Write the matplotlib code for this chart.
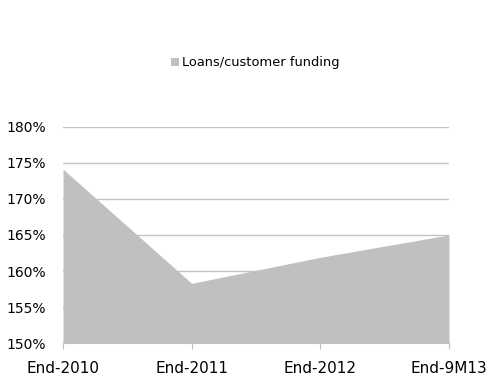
import matplotlib
matplotlib.use("Agg")
import matplotlib.pyplot as plt

# Loans / customer funding ratio, in percent
periods = ["End-2010", "End-2011", "End-2012", "End-9M13"]
ratio = [174.1, 158.3, 161.9, 165.0]
y_ticks = [150, 155, 160, 165, 170, 175, 180]

fill_col = "#c0c0c0"
grid_col = "#c4c4c4"

fig = plt.figure(figsize=(4.87, 3.79), dpi=100)
ax = fig.add_axes([0.1294, 0.0942, 0.7926, 0.572])

x = list(range(len(periods)))
area = ax.fill_between(x, 150, ratio, color=fill_col, linewidth=0, zorder=2,
                       label="Loans/customer funding")

ax.set_xlim(0, len(periods) - 1)
ax.set_ylim(150, 180)
ax.set_yticks(y_ticks)
ax.set_yticklabels([f"{v}%" for v in y_ticks])
ax.set_xticks(x)
ax.set_xticklabels(periods)

for v in y_ticks[1:]:
    ax.axhline(v, color=grid_col, linewidth=1.0, zorder=1)

for s in ["top", "right", "left"]:
    ax.spines[s].set_visible(False)
ax.spines["bottom"].set_color("#bfbfbf")
ax.spines["bottom"].set_zorder(3)

ax.tick_params(axis="y", length=0, pad=12, labelsize=10, labelcolor="#000000")
ax.tick_params(axis="x", length=4, color="#bfbfbf", pad=9, labelsize=11,
               labelcolor="#000000")

fig.legend(handles=[area], loc="center", bbox_to_anchor=(0.525, 0.834),
           frameon=False, fontsize=9.4, handlelength=0.6, handleheight=0.6,
           handletextpad=0.25)

fig.savefig("out.png", dpi=100)
